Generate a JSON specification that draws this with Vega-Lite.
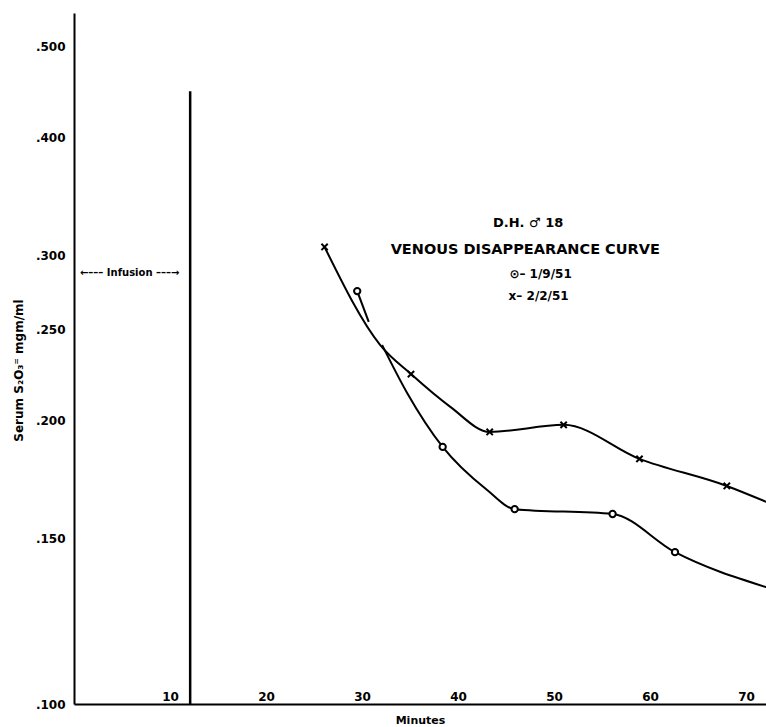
{
  "$schema": "https://vega.github.io/schema/vega-lite/v6.json",
  "width": 692,
  "height": 691,
  "autosize": {"type": "none"},
  "padding": {"left": 74, "top": 13, "right": 0, "bottom": 23},
  "background": "white",
  "config": {"view": {"stroke": null}, "font": "DejaVu Sans"},
  "datasets": {
    "curves": [
      {"series": "2/2/51", "segment": "c", "minutes": 26.1, "serum": 0.306, "marked": true},
      {"series": "2/2/51", "segment": "c", "minutes": 31.9, "serum": 0.2407, "marked": false},
      {"series": "2/2/51", "segment": "c", "minutes": 35.1, "serum": 0.2242, "marked": true},
      {"series": "2/2/51", "segment": "c", "minutes": 39.2, "serum": 0.2069, "marked": false},
      {"series": "2/2/51", "segment": "c", "minutes": 43.3, "serum": 0.1946, "marked": true},
      {"series": "2/2/51", "segment": "c", "minutes": 51.0, "serum": 0.198, "marked": true},
      {"series": "2/2/51", "segment": "c", "minutes": 58.9, "serum": 0.1822, "marked": true},
      {"series": "2/2/51", "segment": "c", "minutes": 68.0, "serum": 0.1705, "marked": true},
      {"series": "2/2/51", "segment": "c", "minutes": 72.1, "serum": 0.164, "marked": false},
      {"series": "1/9/51", "segment": "a", "minutes": 29.5, "serum": 0.2747, "marked": true},
      {"series": "1/9/51", "segment": "a", "minutes": 30.7, "serum": 0.2547, "marked": false},
      {"series": "1/9/51", "segment": "b", "minutes": 32.1, "serum": 0.2407, "marked": false},
      {"series": "1/9/51", "segment": "b", "minutes": 34.7, "serum": 0.2141, "marked": false},
      {"series": "1/9/51", "segment": "b", "minutes": 38.4, "serum": 0.1876, "marked": true},
      {"series": "1/9/51", "segment": "b", "minutes": 43.0, "serum": 0.1689, "marked": false},
      {"series": "1/9/51", "segment": "b", "minutes": 45.9, "serum": 0.1611, "marked": true},
      {"series": "1/9/51", "segment": "b", "minutes": 56.1, "serum": 0.1592, "marked": true},
      {"series": "1/9/51", "segment": "b", "minutes": 62.6, "serum": 0.145, "marked": true},
      {"series": "1/9/51", "segment": "b", "minutes": 72.1, "serum": 0.1331, "marked": false}
    ],
    "infusion": [
      {"minutes": 12.1, "low": 0.1, "high": 0.448}
    ],
    "one": [{}]
  },
  "layer": [
    {
      "data": {"name": "infusion"},
      "mark": {"type": "rule", "color": "black", "strokeWidth": 2.5},
      "encoding": {
        "x": {"field": "minutes", "type": "quantitative", "scale": {"domain": [0, 72.08], "nice": false, "zero": false},
          "axis": {"title": "Minutes", "values": [10, 20, 30, 40, 50, 60, 70], "ticks": false, "tickSize": 0, "grid": false,
            "labelPadding": -4, "labelBaseline": "alphabetic", "labelFontSize": 12, "labelFontWeight": "bold", "labelColor": "black",
            "domainColor": "black", "domainWidth": 2, "titleFontSize": 11, "titleFontWeight": "bold", "titleColor": "black",
            "titleY": 16, "titleBaseline": "middle"}},
        "y": {"field": "low", "type": "quantitative", "scale": {"type": "log", "domain": [0.1, 0.5425], "nice": false},
          "axis": {"title": "Serum  S₂O₃⁼ mgm/ml", "values": [0.1, 0.15, 0.2, 0.25, 0.3, 0.4, 0.5],
            "labelExpr": "replace(format(datum.value,'.3f'),'0.','.')", "ticks": false, "tickSize": 0, "grid": false,
            "labelPadding": 9, "labelFontSize": 12, "labelFontWeight": "bold", "labelColor": "black",
            "domainColor": "black", "domainWidth": 2, "titleFontSize": 12, "titleFontWeight": "bold", "titleColor": "black",
            "titleX": -56, "titleY": 357, "titleBaseline": "middle", "titleAlign": "center"}},
        "y2": {"field": "high"}
      }
    },
    {
      "data": {"name": "curves"},
      "mark": {"type": "line", "color": "black", "strokeWidth": 2, "interpolate": "monotone", "clip": true},
      "encoding": {
        "x": {"field": "minutes", "type": "quantitative"},
        "y": {"field": "serum", "type": "quantitative"},
        "detail": {"field": "segment"},
        "order": {"field": "minutes"}
      }
    },
    {
      "data": {"name": "curves"},
      "transform": [{"filter": "datum.marked"}],
      "mark": {"type": "point", "stroke": "black", "fill": "white", "fillOpacity": 1, "strokeWidth": 2, "opacity": 1, "size": 40, "clip": true},
      "encoding": {
        "x": {"field": "minutes", "type": "quantitative"},
        "y": {"field": "serum", "type": "quantitative"},
        "shape": {"field": "series", "type": "nominal",
          "scale": {"domain": ["1/9/51", "2/2/51"], "range": ["circle", "M-1,-1L1,1M-1,1L1,-1"]}, "legend": null}
      }
    },
    {
      "data": {"name": "one"},
      "mark": {"type": "text", "text": "←––– Infusion –––→", "fontSize": 10, "fontWeight": "bold", "color": "black"},
      "encoding": {"x": {"datum": 5.8}, "y": {"datum": 0.287}}
    },
    {
      "data": {"name": "one"},
      "mark": {"type": "text", "text": "D.H. ♂ 18", "fontSize": 13, "fontWeight": "bold", "color": "black"},
      "encoding": {"x": {"datum": 47.3}, "y": {"datum": 0.3245}}
    },
    {
      "data": {"name": "one"},
      "mark": {"type": "text", "text": "VENOUS  DISAPPEARANCE  CURVE", "fontSize": 14.5, "fontWeight": "bold", "color": "black"},
      "encoding": {"x": {"datum": 47.0}, "y": {"datum": 0.3038}}
    },
    {
      "data": {"name": "one"},
      "mark": {"type": "text", "text": "⊙– 1/9/51", "fontSize": 12, "fontWeight": "bold", "color": "black"},
      "encoding": {"x": {"datum": 48.6}, "y": {"datum": 0.2864}}
    },
    {
      "data": {"name": "one"},
      "mark": {"type": "text", "text": "x– 2/2/51", "fontSize": 12, "fontWeight": "bold", "color": "black"},
      "encoding": {"x": {"datum": 48.4}, "y": {"datum": 0.2714}}
    }
  ]
}
